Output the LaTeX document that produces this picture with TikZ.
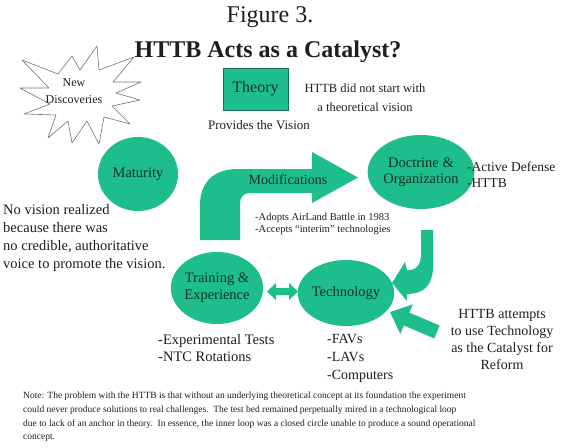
\documentclass[tikz,border=0pt]{standalone}
\usepackage{fontspec}
\setmainfont{Liberation Serif}
\usetikzlibrary{shapes.geometric}
\definecolor{tgreen}{RGB}{30,190,140}
\definecolor{tdark}{RGB}{15,50,35}
\definecolor{tline}{RGB}{20,110,80}
\definecolor{ttext}{RGB}{30,30,30}
\newcommand\fs[2]{\fontsize{#1}{#2}\selectfont}
\tikzset{
  circ/.style={ellipse, fill=tgreen, inner sep=0pt, align=center, text=tdark, font=\fs{14.5}{15.5}},
  lbl/.style={text=ttext, inner sep=0pt},
  blk/.style={fill=tgreen},
  starline/.style={draw=black!55, line width=0.6pt, fill=white, line join=round},
}
\begin{document}
\begin{tikzpicture}[x=1pt,y=-1pt]
\useasboundingbox (0,0) rectangle (567,447);
\fill[white] (0,0) rectangle (567,447);

% titles
\node[lbl, font=\fs{24}{26}] (fig) at (270,17) {Figure 3.};
\node[lbl, font=\bfseries\fs{24}{26}] (ttl) at (268,52) {HTTB Acts as a Catalyst?};

% starburst
\draw[starline] (140,100) -- (112,106) -- (130,124) -- (104,117) -- (99,144) -- (87,121)
  -- (72,143) -- (68,121) -- (48,138) -- (56,115) -- (24,114) -- (50,104)
  -- (20,88) -- (49,88) -- (22,60) -- (58,74) -- (72,56) -- (80,70)
  -- (97,46) -- (99,70) -- (134,57) -- (113,82) -- (141,82) -- (116,93) -- cycle;
\node[lbl, font=\fs{12}{17}, align=center] (nd) at (74,91) {New\\Discoveries};

% theory
\node[draw=tline, line width=0.5pt, fill=tgreen, minimum width=65pt, minimum height=42pt,
  inner sep=0pt, text=tdark, font=\fs{16}{18}] (theory) at (255.5,89) {Theory};
\node[lbl, font=\fs{12.5}{19}, align=center] (nostart) at (365,97.5) {HTTB did not start with\\a theoretical vision};
\node[lbl, font=\fs{13}{15}] (vision) at (259,125) {Provides the Vision};

% circles
\node[circ, minimum width=80pt, minimum height=74pt] (mat) at (138,174) {Maturity};
\node[circ, minimum width=78pt, minimum height=74pt] (doc) at (421,172) {Doctrine \&\\Organization};
\node[circ, minimum width=79pt, minimum height=72pt, font=\fs{14.5}{17}] (train) at (217,288) {Training \&\\Experience};
\node[circ, minimum width=82pt, minimum height=66pt] (tech) at (346,293) {Technology};

% left text
\node[lbl, font=\fs{14.5}{17.7}, align=left, anchor=west] (novis) at (3,238)
  {No vision realized\\because there was\\no credible, authoritative\\voice to promote the vision.};

% modifications bent arrow
\fill[blk] (200,240) -- (200,205) .. controls (200,183) and (213,169) .. (238,169)
  -- (312,169) -- (312,152) -- (358,177.5) -- (312,203) -- (312,193) -- (250,193)
  .. controls (244,193) and (240,197) .. (240,203) -- (240,240) -- cycle;
\node[lbl, text=tdark, font=\fs{14}{16}] (mods) at (288,180) {Modifications};
\node[lbl, font=\fs{10.5}{12}, align=left, anchor=west] (adopt) at (255,223.5)
  {-Adopts AirLand Battle in 1983\\-Accepts ``interim'' technologies};

% right labels
\node[lbl, font=\fs{13.5}{16}, align=left, anchor=west] (ad) at (467,175) {-Active Defense\\-HTTB};

% curved arrow doctrine -> technology
\fill[blk] (421,230) -- (433,230) -- (433,266) .. controls (433,287) and (422,294) .. (407,294)
  -- (407,301) -- (392,283) -- (405,262) -- (407,270) -- (411,270)
  .. controls (417,269) and (421,264) .. (421,254) -- cycle;

% double arrow training <-> technology
\fill[blk] (267,291.5) -- (276,283) -- (276,288) -- (289,288) -- (289,283) -- (298,291.5)
  -- (289,300) -- (289,295) -- (276,295) -- (276,300) -- cycle;

% arrow from lower right
\fill[blk] (439.7,325.6) -- (409.3,312.6) -- (412.9,304.4) -- (390,312) -- (400.3,333.8)
  -- (403.9,325.5) -- (434.3,338.4) -- cycle;

% lower labels
\node[lbl, font=\fs{14.5}{17}, align=left, anchor=west] (exp) at (158,348.5) {-Experimental Tests\\-NTC Rotations};
\node[lbl, font=\fs{14}{18}, align=left, anchor=west] (favs) at (327,358) {-FAVs\\-LAVs\\-Computers};
\node[lbl, font=\fs{14}{17}, align=center] (attempt) at (502,339.5) {HTTB attempts\\to use Technology\\as the Catalyst for\\Reform};

% note
\node[lbl, font=\fs{9.5}{13.7}, align=left, anchor=west] (note) at (23,417)
  {Note: The problem with the HTTB is that without an underlying theoretical concept at its foundation the experiment\\
   could never produce solutions to real challenges.\ \ The test bed remained perpetually mired in a technological loop\\
   due to lack of an anchor in theory.\ \ In essence, the inner loop was a closed circle unable to produce a sound operational\\
   concept.};
\end{tikzpicture}
\end{document}
